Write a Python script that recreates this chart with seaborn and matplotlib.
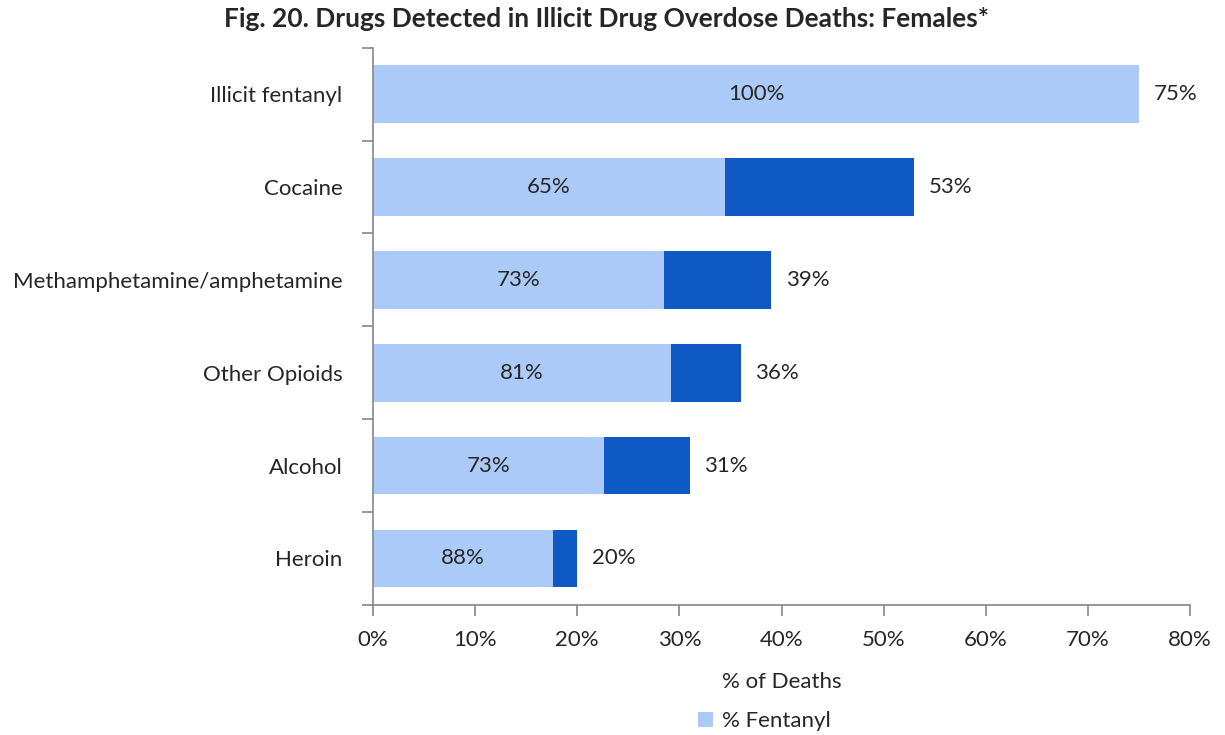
import pandas as pd
import matplotlib.pyplot as plt
import seaborn as sns

# data
drugs = ["Illicit fentanyl", "Cocaine", "Methamphetamine/amphetamine",
         "Other Opioids", "Alcohol", "Heroin"]
total_pct = [75, 53, 39, 36, 31, 20]          # % of deaths with drug detected
fentanyl_share = [100, 65, 73, 81, 73, 88]    # % of those that also had fentanyl

df = pd.DataFrame({"Drug": drugs, "Total": total_pct, "Share": fentanyl_share})
df["Fentanyl"] = df["Total"] * df["Share"] / 100

sns.set_style("white")
plt.rcParams["font.family"] = ["Lato", "DejaVu Sans"]

light = "#abcaf7"
dark = "#0f59c4"
grey = "#868686"
txt = "#262626"
fs = 16

fig = plt.figure(figsize=(12.25, 7.35), dpi=100)
ax = fig.add_axes([0.3045, 0.177, 0.667, 0.758])

# whole bar in dark blue, fentanyl part in light blue on top
sns.barplot(data=df, y="Drug", x="Total", color=dark, width=0.62,
            orient="h", ax=ax, saturation=1, linewidth=0)
sns.barplot(data=df, y="Drug", x="Fentanyl", color=light, width=0.62,
            orient="h", ax=ax, saturation=1, linewidth=0, label="% Fentanyl")
if ax.get_legend() is not None:
    ax.get_legend().remove()

for i, row in df.iterrows():
    ax.text(row["Fentanyl"] / 2, i, f"{row['Share']}%", ha="center",
            va="center", fontsize=fs, color=txt)
    ax.text(row["Total"] + 1.4, i, f"{row['Total']}%", ha="left",
            va="center", fontsize=fs, color=txt)

ax.set_xlim(0, 80)
ax.set_ylim(5.5, -0.5)
ax.set_xticks(range(0, 81, 10))
ax.set_xticklabels([f"{v}%" for v in range(0, 81, 10)], fontsize=fs, color=txt)
ax.set_yticks(range(len(drugs)))
ax.set_yticklabels(drugs, fontsize=fs, color=txt)
ax.set_yticks([v - 0.5 for v in range(len(drugs) + 1)], minor=True)
ax.tick_params(axis="y", which="major", length=0, pad=22)
ax.tick_params(axis="y", which="minor", left=True, length=8, color=grey,
               width=1.2, direction="out")
ax.tick_params(axis="x", length=8, color=grey, width=1.2, pad=10,
               bottom=True, direction="out")
ax.set_ylabel("")
ax.set_xlabel("% of Deaths", fontsize=fs, color=txt, labelpad=16)

sns.despine(ax=ax, top=True, right=True)
for s in ["left", "bottom"]:
    ax.spines[s].set_color(grey)
    ax.spines[s].set_linewidth(1.2)

fig.suptitle("Fig. 20. Drugs Detected in Illicit Drug Overdose Deaths: Females*",
             fontsize=19, fontweight="bold", x=0.495, y=0.99)

handles, labels = ax.get_legend_handles_labels()
fig.legend(handles[-1:], labels[-1:], loc="lower center",
           bbox_to_anchor=(0.624, -0.022), frameon=False, fontsize=fs,
           handlelength=0.7, handleheight=0.7, handletextpad=0.4,
           labelcolor=txt)

fig.savefig("out.png", dpi=100)
